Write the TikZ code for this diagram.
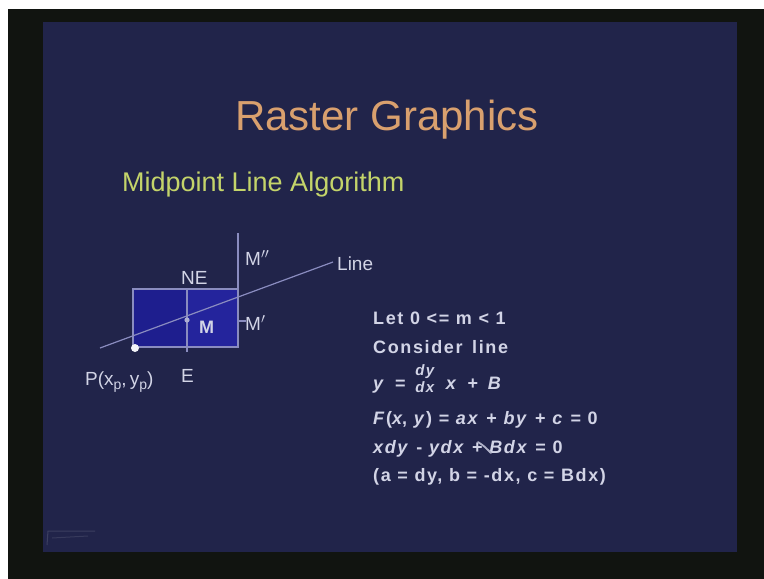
\documentclass[tikz,border=0pt]{standalone}
\usepackage{fontspec}
\setmainfont{Liberation Sans}
\definecolor{slide}{HTML}{21244A}
\definecolor{frame}{HTML}{111410}
\definecolor{titlec}{HTML}{D9A06E}
\definecolor{subc}{HTML}{C4D46A}
\definecolor{txt}{HTML}{D2D4E6}
\definecolor{cellA}{HTML}{1E1E8E}
\definecolor{cellB}{HTML}{24249C}
\definecolor{edge}{HTML}{8A8CC0}
\tikzset{
  lbl/.style={text=txt, font=\fontsize{19}{21}\selectfont, inner sep=0pt, anchor=base west},
  body/.style={text=txt, font=\bfseries\fontsize{18}{20}\selectfont\addfontfeature{LetterSpace=9}, inner sep=0pt, anchor=base west},
  thin/.style={draw=edge, line width=1.2pt},
}
\begin{document}
\begin{tikzpicture}[x=1pt,y=-1pt]
\useasboundingbox (0,0) rectangle (764,579);
\fill[white] (0,0) rectangle (764,579);
\fill[frame] (8,9) rectangle (764,579);
\fill[slide] (43,22) rectangle (737,552);
% titles
\node[text=titlec, font=\fontsize{42}{46}\selectfont, inner sep=0pt, anchor=base west] (title) at (235,130) {Raster Graphics};
\node[text=subc, font=\fontsize{27}{29}\selectfont, inner sep=0pt, anchor=base west] (sub) at (122,191) {Midpoint Line Algorithm};
% cells
\fill[cellA] (133,289) rectangle (187,347);
\fill[cellB] (187,289) rectangle (238,347);
\draw[thin] (133,289) rectangle (238,347);
\coordinate (dtop) at (187,289);
\coordinate (dbot) at (187,352);
\draw[thin] (dtop) -- (dbot);
\coordinate (vtop) at (238,233);
\coordinate (vbot) at (238,347);
\draw[thin] (vtop) -- (vbot);
\coordinate (ls) at (100,348);
\coordinate (le) at (333,262);
\draw[thin] (ls) -- (le);
\coordinate (t1) at (238,321);
\coordinate (t2) at (246,321);
\draw[thin] (t1) -- (t2);
\fill[edge!70!white] (187,320) circle (2.6);
\fill[white!90!edge] (135,348) circle (4);
% labels
\node[lbl] (ne) at (181,284) {NE};
\node[lbl] (mpp) at (245,265) {M$''$};
\node[lbl] (mp) at (245,330) {M$'$};
\node[lbl] (line) at (337,270) {Line};
\node[lbl, font=\bfseries\fontsize{18}{20}\selectfont] (m) at (199,333) {M};
\node[lbl] (e) at (181,382) {E};
\node[lbl] (p) at (85,385) {P(x\raisebox{-0.45ex}{\fontsize{14}{14}\selectfont p},\,y\raisebox{-0.45ex}{\fontsize{14}{14}\selectfont p})};
% right text
\node[body] (l1) at (373,324) {Let 0 <= m < 1};
\node[body] (l2) at (373,353) {Consider\, line};
\node[body] (l3) at (373,389) {\textit{y}\, =\, \raisebox{-0.4ex}{\shortstack{\textit{\fontsize{15}{15}\selectfont dy}\\[0pt]\textit{\fontsize{15}{15}\selectfont dx}}}\, \textit{x}\, +\, \textit{B}};
\node[body] (l4) at (373,424) {\textit{F}(\textit{x}, \textit{y}) = \textit{ax} + \textit{by} + \textit{c} = 0};
\node[body] (l5) at (373,453) {\textit{xdy} - \textit{ydx} + \textit{Bdx} = 0};
\node[body] (l6) at (373,481) {(a = dy, b = -dx, c = Bdx)};
% pen scribble
\draw[draw=txt!80!slide, line width=1.8pt, line cap=round] (478,442) .. controls (484,446) .. (491,453);
% faint logo
\draw[draw=slide!75!white, line width=1pt, opacity=0.5] (47,545) -- (48,531) -- (95,531);
\draw[draw=slide!75!white, line width=1pt, opacity=0.4] (52,538) -- (88,536);
\end{tikzpicture}
\end{document}
